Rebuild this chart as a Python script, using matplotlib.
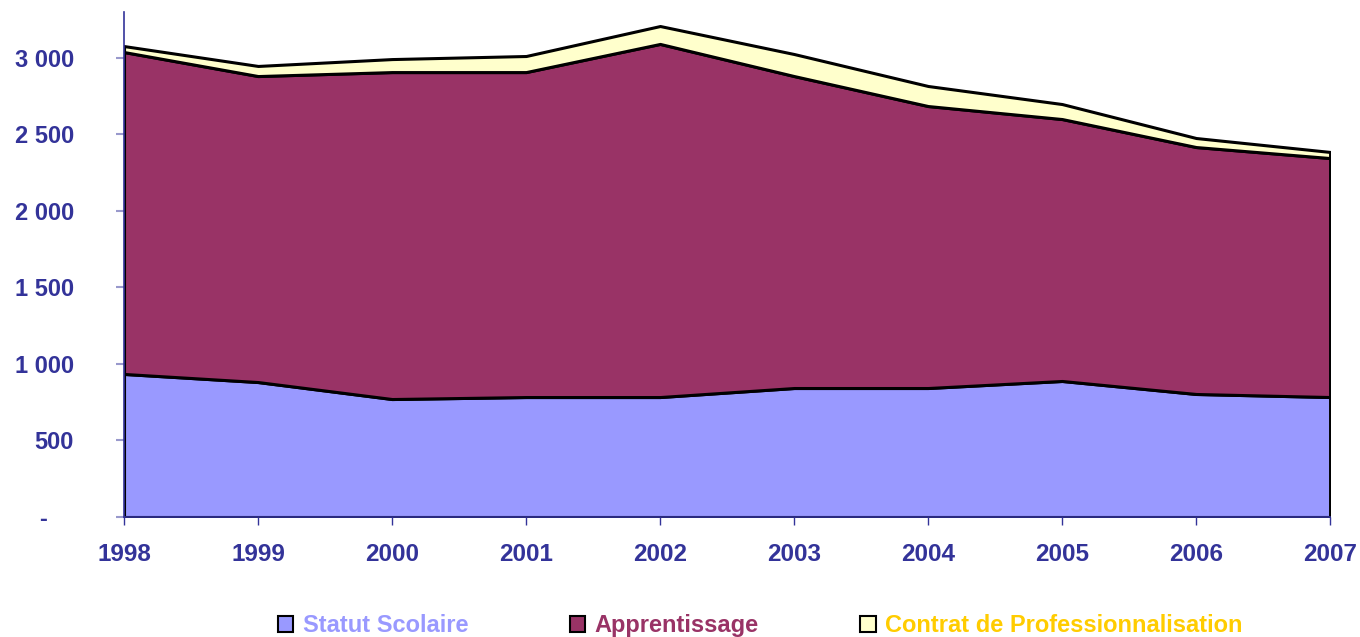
import matplotlib
matplotlib.use("Agg")
from matplotlib import pyplot as plt
from matplotlib.patches import Patch

plt.rcParams['font.family'] = ['Liberation Sans', 'DejaVu Sans']
plt.rcParams['font.weight'] = 'bold'

years = [1998, 1999, 2000, 2001, 2002, 2003, 2004, 2005, 2006, 2007]
statut_scolaire = [935, 882, 771, 784, 784, 843, 843, 889, 804, 784]
apprentissage = [2104, 2000, 2137, 2124, 2308, 2039, 1843, 1712, 1614, 1562]
contrat_pro = [39, 66, 85, 105, 117, 144, 131, 98, 59, 40]

names = ['Statut Scolaire', 'Apprentissage', 'Contrat de Professionnalisation']
fills = ['#9999ff', '#993366', '#ffffcc']
text_cols = ['#9999ff', '#993366', '#ffcc00']
navy = '#333399'

fig = plt.figure(figsize=(13.6, 6.37), dpi=100)
ax = fig.add_axes([0.0912, 0.1884, 0.8868, 0.7926])

ax.stackplot(years, statut_scolaire, apprentissage, contrat_pro,
             colors=fills, edgecolor='black', linewidth=2.2)

ax.set_xlim(1998, 2007)
ax.set_ylim(0, 3300)
ax.set_xticks(years)
ax.set_yticks([0, 500, 1000, 1500, 2000, 2500, 3000])
ax.set_yticklabels(['-    ', '500', '1 000', '1 500', '2 000', '2 500', '3 000'])

for s in ['top', 'right']:
    ax.spines[s].set_visible(False)
ax.spines['left'].set_color(navy)
ax.spines['bottom'].set_color(navy)
ax.spines['left'].set_linewidth(1.2)
ax.spines['bottom'].set_linewidth(1.2)

ax.tick_params(axis='y', direction='out', length=6, width=1.5, color='#9999cc',
               pad=30, labelsize=17, labelcolor=navy)
ax.tick_params(axis='x', direction='out', length=6, width=1, color=navy,
               pad=13, labelsize=17.5, labelcolor=navy)

handles = [Patch(facecolor=f, edgecolor='black', linewidth=1.5) for f in fills]
leg = fig.legend(handles, names, loc='center', bbox_to_anchor=(0.559, 0.018),
                 ncol=3, frameon=False, fontsize=17, handlelength=0.65,
                 handleheight=0.65, handletextpad=0.4, columnspacing=4.3)
for t, c in zip(leg.get_texts(), text_cols):
    t.set_color(c)

fig.savefig('out.png', dpi=100)
